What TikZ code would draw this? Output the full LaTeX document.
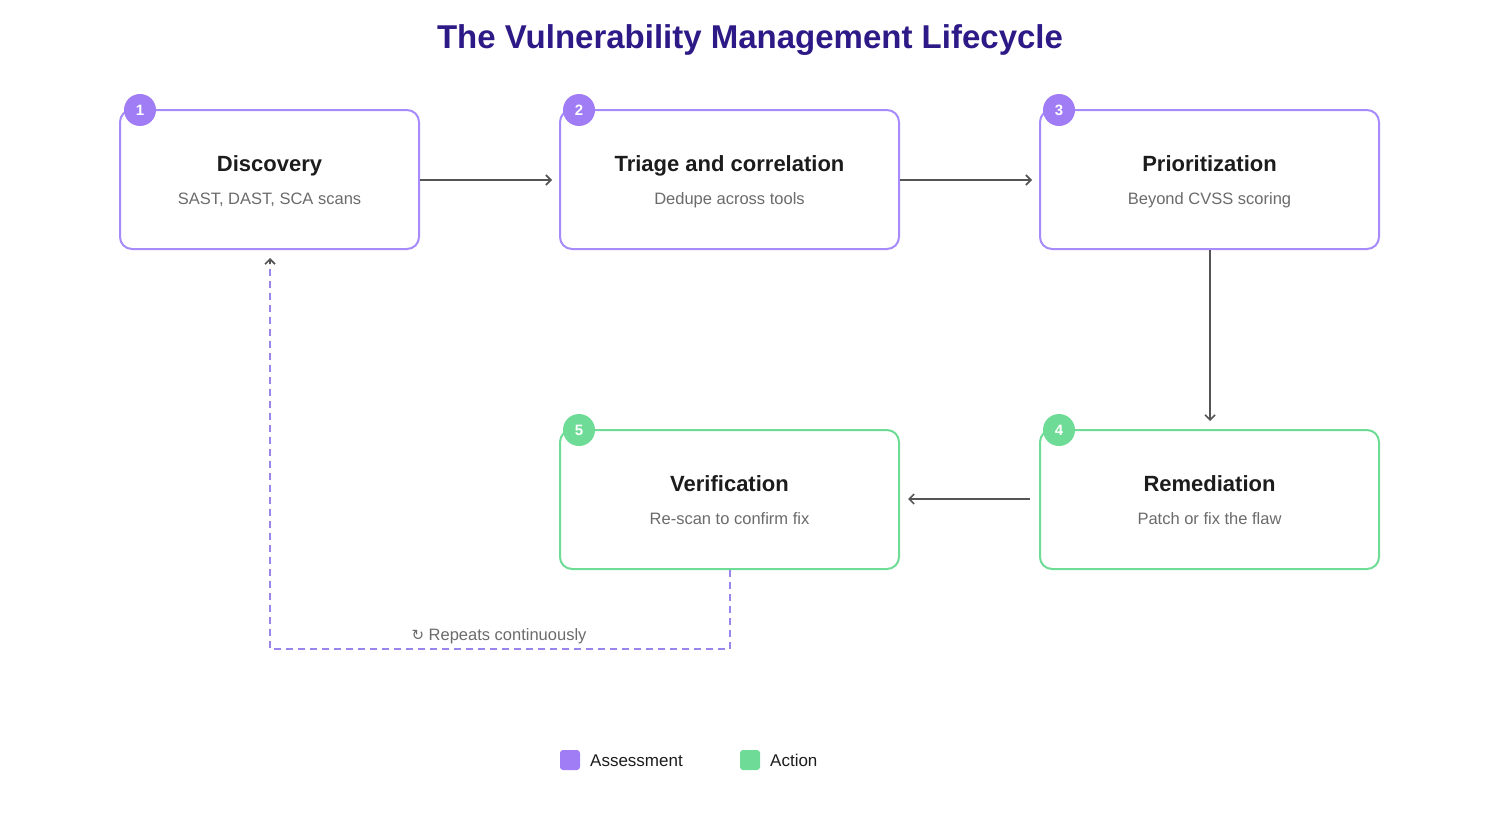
\documentclass[tikz,border=0pt]{standalone}
\usepackage{fontspec}
\setmainfont{Liberation Sans}
\newfontfamily\symfont{DejaVu Sans}
\usetikzlibrary{arrows.meta,calc}
\definecolor{purp}{HTML}{A78BFA}
\definecolor{purpfill}{HTML}{A07CF5}
\definecolor{grn}{HTML}{6EDC96}
\definecolor{titlec}{HTML}{2E1A87}
\definecolor{darkt}{HTML}{1C1C1C}
\definecolor{subt}{HTML}{6B6B6B}
\definecolor{arr}{HTML}{555555}
\definecolor{dash}{HTML}{9A84EE}
\begin{document}
\begin{tikzpicture}[x=1pt,y=-1pt,
  card/.style={draw, line width=2pt, rounded corners=12pt, fill=white},
  badge/.style={circle, minimum size=32pt, inner sep=0pt, text=white, font=\bfseries\fontsize{15}{15}\selectfont},
  ttl/.style={anchor=base, font=\fontsize{22}{22}\selectfont\bfseries, text=darkt},
  sub/.style={anchor=base, font=\fontsize{16.5}{16.5}\selectfont, text=subt},
  tip/.style={-{Straight Barb[length=5pt,width=10pt,line width=1.6pt]}},
  flow/.style={draw=arr, line width=1.6pt, tip},
  loopline/.style={draw=dash, line width=1.6pt, dash pattern=on 7pt off 5pt},
  legsq/.style={rounded corners=3pt, minimum size=20pt, inner sep=0pt},
  legtxt/.style={anchor=base west, inner sep=0pt, font=\fontsize{17}{17}\selectfont, text=darkt}
]
\useasboundingbox (0,0) rectangle (1500,819);
\node[anchor=base, font=\fontsize{33}{33}\selectfont\bfseries, text=titlec] (title) at (750,48) {The Vulnerability Management Lifecycle};

% cards
\draw[card, draw=purp] (120,110) rectangle (419,249);
\draw[card, draw=purp] (560,110) rectangle (899,249);
\draw[card, draw=purp] (1040,110) rectangle (1379,249);
\draw[card, draw=grn] (1040,430) rectangle (1379,569);
\draw[card, draw=grn] (560,430) rectangle (899,569);

\node[ttl] (t1) at (269.5,171) {Discovery};
\node[sub] (s1) at (269.5,204) {SAST, DAST, SCA scans};
\node[ttl] (t2) at (729.5,171) {Triage and correlation};
\node[sub] (s2) at (729.5,204) {Dedupe across tools};
\node[ttl] (t3) at (1209.5,171) {Prioritization};
\node[sub] (s3) at (1209.5,204) {Beyond CVSS scoring};
\node[ttl] (t4) at (1209.5,491) {Remediation};
\node[sub] (s4) at (1209.5,524) {Patch or fix the flaw};
\node[ttl] (t5) at (729.5,491) {Verification};
\node[sub] (s5) at (729.5,524) {Re-scan to confirm fix};

\node[badge, fill=purpfill] (b1) at (140,110) {1};
\node[badge, fill=purpfill] (b2) at (579,110) {2};
\node[badge, fill=purpfill] (b3) at (1059,110) {3};
\node[badge, fill=grn] (b4) at (1059,430) {4};
\node[badge, fill=grn] (b5) at (579,430) {5};

% connector anchors
\coordinate (e1) at (420,180);
\coordinate (w2) at (552,180);
\coordinate (e2) at (900,180);
\coordinate (w3) at (1032,180);
\coordinate (s3b) at (1210,250);
\coordinate (n4) at (1210,421);
\coordinate (w4) at (1030,499);
\coordinate (e5) at (908,499);
\coordinate (s5b) at (730,570);
\coordinate (l1) at (730,649);
\coordinate (l2) at (270,649);
\coordinate (s1b) at (270,258);

\draw[flow] (e1) -- (w2);
\draw[flow] (e2) -- (w3);
\draw[flow] (s3b) -- (n4);
\draw[flow] (w4) -- (e5);
\draw[loopline] (s5b) -- (l1) -- (l2) -- ($(s1b)+(0,6)$);
\draw[draw=arr, line width=1.6pt, tip] ($(s1b)+(0,6)$) -- (s1b);
\node[anchor=base, font=\fontsize{16.5}{16.5}\selectfont, text=subt] (rep) at (499,640) {{\symfont\fontsize{15}{15}\selectfont ↻} Repeats continuously};

% legend
\node[legsq, fill=purpfill] (lg1) at (570,760) {};
\node[legtxt] (lt1) at (590,766) {Assessment};
\node[legsq, fill=grn] (lg2) at (750,760) {};
\node[legtxt] (lt2) at (770,766) {Action};
\end{tikzpicture}
\end{document}
